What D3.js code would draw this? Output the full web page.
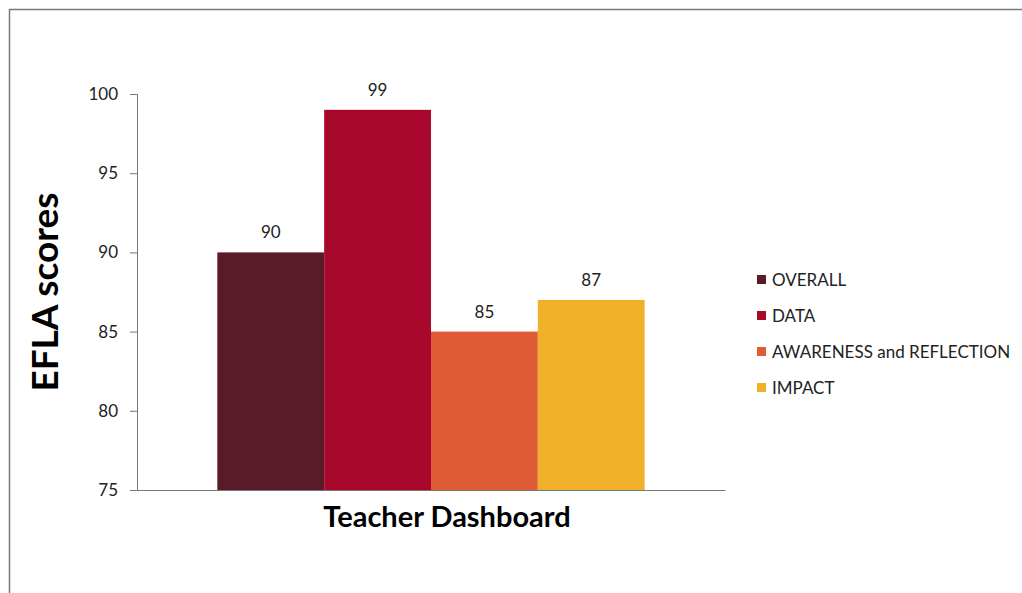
<!DOCTYPE html>
<html>
<head>
<meta charset="utf-8">
<script src="https://cdn.jsdelivr.net/npm/d3@7"></script>
<style>
  body { margin: 0; background: #fff; }
  text { font-family: Lato, "Open Sans", sans-serif; fill: #222; }
</style>
</head>
<body>
<script>
var categories = ["Teacher Dashboard"];
var series = ["OVERALL", "DATA", "AWARENESS and REFLECTION", "IMPACT"];
var values = [90, 99, 85, 87];
var colors = ["#5a1b28", "#a8082c", "#e05c36", "#f0b02a"];
var yTicks = [75, 80, 85, 90, 95, 100];

var width = 1022, height = 593;
var margin = {top: 94, right: 297, bottom: 103, left: 137};

var svg = d3.select("body").append("svg")
    .attr("width", width)
    .attr("height", height);

// frame of the chart area
svg.append("path")
    .attr("d", "M9.5," + height + "V9.5H" + width)
    .attr("fill", "none")
    .attr("stroke", "#7a7a7a")
    .attr("stroke-width", 1.5);

var x0 = d3.scaleBand()
    .domain(categories)
    .range([margin.left, width - margin.right])
    .paddingInner(0)
    .paddingOuter(0.188);

var x1 = d3.scaleBand()
    .domain(series)
    .range([0, x0.bandwidth()]);

var y = d3.scaleLinear()
    .domain([75, 100])
    .range([height - margin.bottom, margin.top]);

// bars
var g = svg.append("g")
    .selectAll("g")
    .data(categories)
    .enter()
    .append("g")
    .attr("transform", function(d) { return "translate(" + x0(d) + ",0)"; });

g.selectAll("rect")
    .data(series.map(function(s, i) { return {key: s, value: values[i], color: colors[i]}; }))
    .enter()
    .append("rect")
    .attr("x", function(d) { return x1(d.key); })
    .attr("y", function(d) { return y(d.value); })
    .attr("width", x1.bandwidth())
    .attr("height", function(d) { return y(75) - y(d.value); })
    .attr("fill", function(d) { return d.color; });

g.selectAll("text.value")
    .data(series.map(function(s, i) { return {key: s, value: values[i]}; }))
    .enter()
    .append("text")
    .attr("class", "value")
    .attr("x", function(d) { return x1(d.key) + x1.bandwidth() / 2; })
    .attr("y", function(d) { return y(d.value) - 14; })
    .attr("text-anchor", "middle")
    .style("font-size", "17px")
    .text(function(d) { return d.value; });

// y axis
var yAxis = svg.append("g")
    .attr("transform", "translate(" + margin.left + ",0)")
    .call(d3.axisLeft(y).tickValues(yTicks).tickSize(7).tickPadding(12));

yAxis.select(".domain").attr("stroke", "#777");
yAxis.selectAll(".tick line").attr("stroke", "#777");
yAxis.selectAll(".tick text")
    .style("font-size", "17px")
    .style("font-family", "Lato, sans-serif")
    .attr("fill", "#222");

// x axis
var xAxis = svg.append("g")
    .attr("transform", "translate(0," + y(75) + ")")
    .call(d3.axisBottom(x0).tickSize(0).tickFormat(""));
xAxis.select(".domain").attr("stroke", "#777");

// axis titles
svg.append("text")
    .attr("transform", "translate(" + 58 + "," + 292 + ") rotate(-90)")
    .attr("text-anchor", "middle")
    .style("font-size", "37px")
    .style("font-weight", "bold")
    .style("fill", "#000")
    .text("EFLA scores");

svg.append("text")
    .attr("x", x0(categories[0]) + x0.bandwidth() / 2 + 16)
    .attr("y", 527)
    .attr("text-anchor", "middle")
    .style("font-size", "29px")
    .style("font-weight", "bold")
    .style("fill", "#000")
    .text(categories[0]);

// legend
var legend = svg.append("g")
    .attr("transform", "translate(757,280)");

var item = legend.selectAll("g")
    .data(series)
    .enter()
    .append("g")
    .attr("transform", function(d, i) { return "translate(0," + (i * 36) + ")"; });

item.append("rect")
    .attr("x", 0)
    .attr("y", -5)
    .attr("width", 9)
    .attr("height", 9)
    .attr("fill", function(d, i) { return colors[i]; });

item.append("text")
    .attr("x", 15)
    .attr("y", 0)
    .attr("dy", "0.35em")
    .style("font-size", "17px")
    .text(function(d) { return d; });
</script>
</body>
</html>
